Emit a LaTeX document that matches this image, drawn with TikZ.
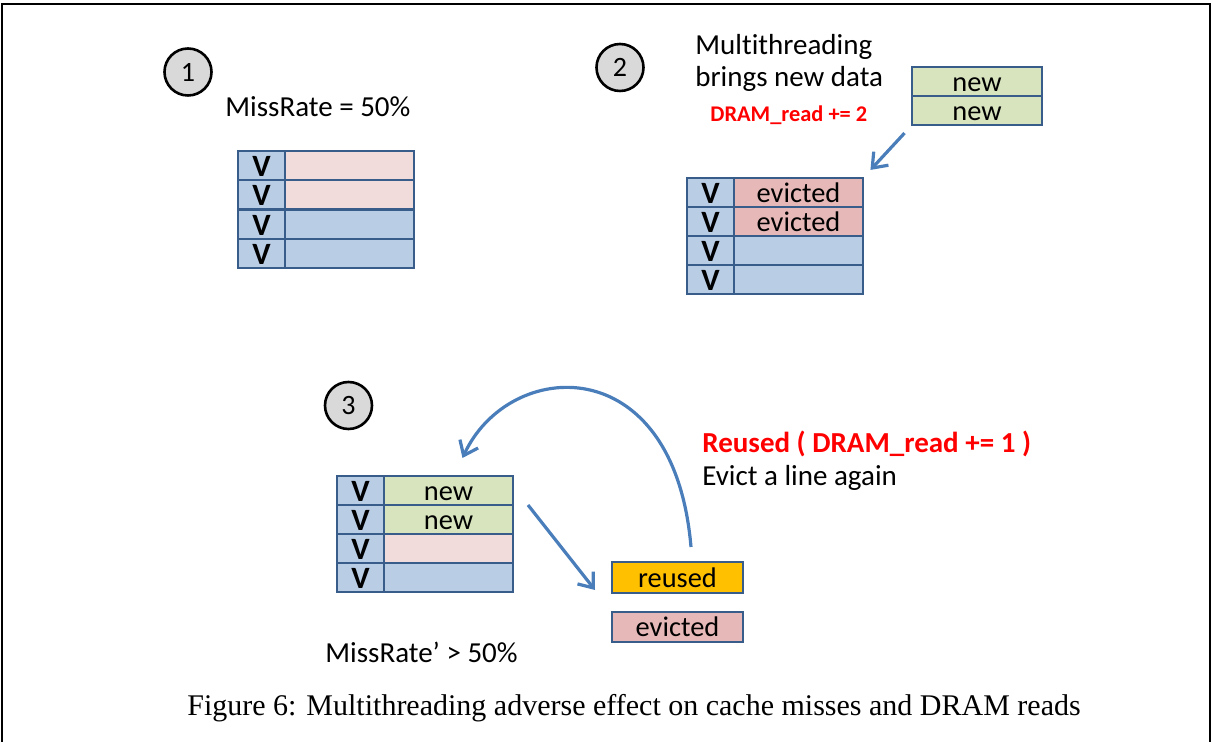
\documentclass[tikz,border=0pt]{standalone}
\usepackage{fontspec}
\setmainfont{Carlito}[Ligatures=NoCommon]
\newfontfamily\capfont{Liberation Serif}
\usetikzlibrary{arrows.meta,calc}

\definecolor{cellline}{HTML}{385D8A}
\definecolor{vfill}{HTML}{B9CDE5}
\definecolor{pinklt}{HTML}{F2DCDB}
\definecolor{pinkdk}{HTML}{E6B9B8}
\definecolor{greenfill}{HTML}{D7E4BD}
\definecolor{orangefill}{HTML}{FFC000}
\definecolor{arrowblue}{HTML}{4A7EBB}
\definecolor{labelred}{HTML}{FF0000}
\definecolor{stepgray}{HTML}{D9D9D9}

\begin{document}
\begin{tikzpicture}[x=0.5pt,y=-0.5pt,
  cell/.style={draw=cellline, line width=1.35pt, inner sep=0pt, outer sep=0pt,
    anchor=north west, minimum height=14.5pt, text height=10.5pt, text depth=0.5pt,
    font=\fontsize{14.2}{16}\selectfont},
  vcell/.style={cell, fill=vfill, minimum width=23.5pt, text height=11pt, text depth=0pt,
    font=\fontsize{15.5}{17}\selectfont\bfseries},
  dcell/.style={cell, minimum width=64.5pt},
  stepmark/.style={circle, draw=black, fill=stepgray, line width=1.3pt,
    minimum size=23.5pt, inner sep=0pt, font=\fontsize{14}{16}\selectfont},
  lbl/.style={inner sep=0pt, anchor=base west, font=\fontsize{14.5}{17}\selectfont},
  redlbl/.style={lbl, text=labelred, font=\fontsize{14.5}{17}\selectfont\bfseries},
  flow/.style={draw=arrowblue, line width=1.6pt, -{Straight Barb[length=6.5pt,width=10pt]}}
]
\clip (0,0) rectangle (1212,742);

% outer frame (open at the bottom edge)
\draw[line width=1.3pt] (2,760) -- (2,4) -- (1210,4) -- (1210,760);

% ---- step 1 ----
\node[stepmark] (s1) at (188,72) {1};
\node[lbl] (mr1) at (225,117) {MissRate = 50\%};
\node[vcell] (a1v) at (238,151) {V};
\node[dcell, fill=pinklt] (a1d) at (285,151) {};
\node[vcell] (a2v) at (238,180) {V};
\node[dcell, fill=pinklt] (a2d) at (285,180) {};
\node[vcell] (a3v) at (238,210) {V};
\node[dcell, fill=vfill] (a3d) at (285,210) {};
\node[vcell] (a4v) at (238,239) {V};
\node[dcell, fill=vfill] (a4d) at (285,239) {};

% ---- step 2 ----
\node[stepmark] (s2) at (620,67.5) {2};
\node[lbl] (mt1) at (695,55) {Multithreading};
\node[lbl] (mt2) at (695,87) {brings new data};
\node[redlbl, font=\fontsize{11.2}{13}\selectfont\bfseries] (dr2) at (710,122) {DRAM\_read += 2};
\node[dcell, fill=greenfill, minimum width=65pt] (n1) at (912,67) {new};
\node[dcell, fill=greenfill, minimum width=65pt] (n2) at (912,96) {new};
\node[vcell] (b1v) at (687,178) {V};
\node[dcell, fill=pinkdk] (b1d) at (734,178) {evicted};
\node[vcell] (b2v) at (687,207) {V};
\node[dcell, fill=pinkdk] (b2d) at (734,207) {evicted};
\node[vcell] (b3v) at (687,236) {V};
\node[dcell, fill=vfill] (b3d) at (734,236) {};
\node[vcell] (b4v) at (687,265) {V};
\node[dcell, fill=vfill] (b4d) at (734,265) {};
\draw[flow, shorten <=5.5pt, shorten >=5.5pt] (n2.south west) -- (b1d.north east);

% ---- step 3 ----
\node[stepmark] (s3) at (348.5,405.5) {3};
\node[vcell] (c1v) at (337,476) {V};
\node[dcell, fill=greenfill] (c1d) at (384,476) {new};
\node[vcell] (c2v) at (337,505) {V};
\node[dcell, fill=greenfill] (c2d) at (384,505) {new};
\node[vcell] (c3v) at (337,534) {V};
\node[dcell, fill=pinklt] (c3d) at (384,534) {};
\node[vcell] (c4v) at (337,563) {V};
\node[dcell, fill=vfill] (c4d) at (384,563) {};
\node[dcell, fill=orangefill, minimum width=65.5pt, minimum height=15.5pt] (reused) at (612,562) {reused};
\node[dcell, fill=pinkdk, minimum width=65.5pt, minimum height=15pt] (evicted) at (612,612) {evicted};
\node[redlbl] (ru) at (702,453) {Reused ( DRAM\_read += 1 )};
\node[lbl] (ev) at (702,486) {Evict a line again};
\node[lbl] (mr2) at (325,663) {MissRate’ > 50\%};

\draw[flow] ($(c1d.south east)+(15,0)$) -- ($(reused.south west)+(-17,-3)$);
\draw[flow] ($(reused.north)+(13.5,-15)$) .. controls +(-17,-200) and +(46,-100) .. ($(c1d.north)+(14,-18)$);

% caption
\node[anchor=base, inner sep=0pt, font=\capfont\fontsize{15}{18}\selectfont] (cap) at (634,716)
  {Figure 6: Multithreading adverse effect on cache misses and DRAM reads};
\end{tikzpicture}
\end{document}
